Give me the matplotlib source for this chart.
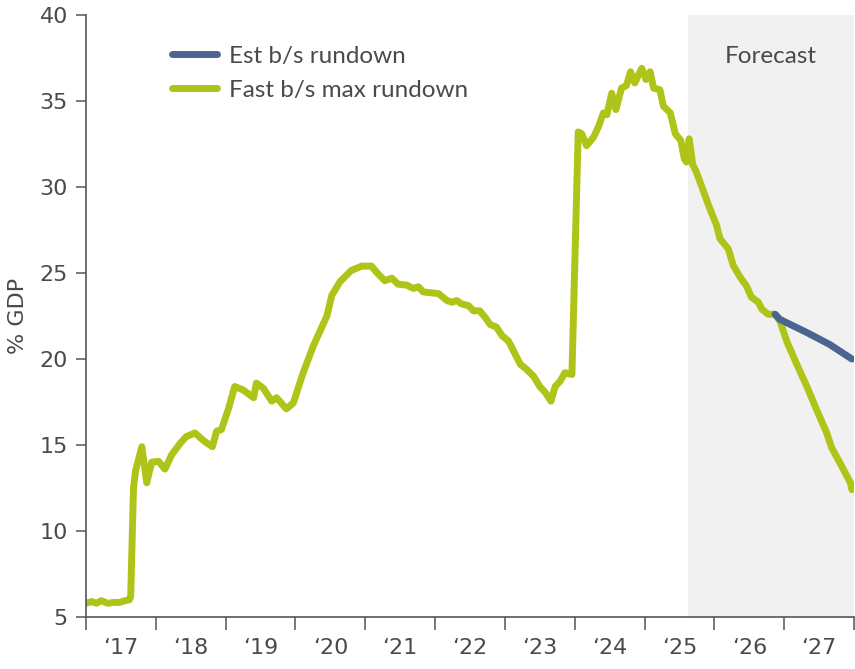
import numpy as np
import matplotlib.pyplot as plt

# balance sheet as % of GDP, decimal years
hist_x = [2017.00, 2017.08, 2017.15, 2017.22, 2017.31, 2017.40, 2017.48, 2017.56, 2017.62,
          2017.64, 2017.68, 2017.71, 2017.80, 2017.87, 2017.94, 2018.04, 2018.13, 2018.23,
          2018.35, 2018.44, 2018.56, 2018.70, 2018.81, 2018.87, 2018.94, 2019.04, 2019.13,
          2019.25, 2019.40, 2019.44, 2019.54, 2019.66, 2019.73, 2019.87, 2019.97, 2020.11,
          2020.26, 2020.45, 2020.52, 2020.64, 2020.80, 2020.95, 2021.09, 2021.16, 2021.28,
          2021.38, 2021.47, 2021.59, 2021.69, 2021.76, 2021.83, 2022.05, 2022.17, 2022.24,
          2022.31, 2022.38, 2022.48, 2022.55, 2022.64, 2022.72, 2022.79, 2022.88, 2022.96,
          2023.05, 2023.12, 2023.22, 2023.31, 2023.41, 2023.50, 2023.58, 2023.66, 2023.72,
          2023.79, 2023.86, 2023.96, 2024.05, 2024.10, 2024.17, 2024.27, 2024.34, 2024.41,
          2024.46, 2024.53, 2024.59, 2024.67, 2024.74, 2024.80, 2024.86, 2024.96, 2025.02,
          2025.08, 2025.13, 2025.22, 2025.27, 2025.37, 2025.44, 2025.52, 2025.57, 2025.60,
          2025.64, 2025.69, 2025.74, 2025.84, 2025.93, 2026.03, 2026.08, 2026.20, 2026.27,
          2026.37, 2026.46, 2026.53, 2026.63, 2026.68, 2026.77, 2026.87]
hist_y = [5.8, 5.9, 5.8, 5.95, 5.8, 5.85, 5.85, 5.95, 6.0,
          6.2, 12.5, 13.5, 14.9, 12.8, 14.0, 14.05, 13.6, 14.45,
          15.1, 15.5, 15.7, 15.2, 14.9, 15.8, 15.9, 17.1, 18.4,
          18.2, 17.75, 18.6, 18.3, 17.55, 17.75, 17.1, 17.45, 19.2,
          20.8, 22.5, 23.7, 24.5, 25.15, 25.4, 25.4, 25.05, 24.55,
          24.7, 24.35, 24.3, 24.1, 24.2, 23.9, 23.8, 23.4, 23.3,
          23.4, 23.2, 23.1, 22.8, 22.8, 22.4, 22.0, 21.85, 21.35,
          21.05, 20.5, 19.7, 19.4, 19.0, 18.4, 18.05, 17.55, 18.4,
          18.7, 19.2, 19.1, 33.2, 33.1, 32.4, 32.9, 33.5, 34.3,
          34.2, 35.45, 34.5, 35.75, 35.9, 36.7, 36.05, 36.9, 36.25,
          36.7, 35.75, 35.65, 34.7, 34.3, 33.1, 32.7, 31.65, 31.45,
          32.8, 31.3, 30.9, 29.8, 28.8, 27.8, 27.0, 26.4, 25.45,
          24.75, 24.25, 23.6, 23.3, 22.9, 22.6, 22.6]

fast_x = [2026.94, 2027.04, 2027.18, 2027.32, 2027.46, 2027.61, 2027.68, 2027.80, 2027.95, 2027.97]
fast_y = [22.2, 21.0, 19.7, 18.45, 17.1, 15.7, 14.85, 13.95, 12.8, 12.4]

est_x = [2026.87, 2026.94, 2027.32, 2027.65, 2027.97]
est_y = [22.6, 22.3, 21.55, 20.85, 20.0]

forecast_start = 2025.62
years = list(range(2017, 2029))
year_labels = ["\u2018%d" % (y % 100) for y in years[:-1]]

green = "#afc418"
blue = "#4b6491"
text_col = "#4a4a4a"
axis_col = "#555555"

fig = plt.figure(figsize=(8.55, 6.69), dpi=100)
ax = fig.add_axes([0.1006, 0.0777, 0.8982, 0.8999])

ax.axvspan(forecast_start, 2028, color="#f1f1f1", lw=0, zorder=0)

green_x = hist_x + fast_x
green_y = hist_y + fast_y
ax.plot(green_x, green_y, color=green, lw=5, solid_capstyle="round",
        solid_joinstyle="round", label="Fast b/s max rundown", zorder=2)
ax.plot(est_x, est_y, color=blue, lw=5, solid_capstyle="round",
        solid_joinstyle="round", label="Est b/s rundown", zorder=3)

ax.set_xlim(2017, 2028)
ax.set_ylim(5, 40)

ax.set_xticks(years)
ax.set_xticklabels([])
ax.set_xticks([y + 0.5 for y in years[:-1]], minor=True)
ax.set_xticklabels(year_labels, minor=True)
ax.tick_params(axis="x", which="major", direction="out", length=9, width=1.1, color=axis_col)
ax.tick_params(axis="x", which="minor", length=0, pad=15, labelsize=16, labelcolor=text_col)

ax.set_yticks(range(5, 41, 5))
ax.tick_params(axis="y", direction="out", length=7, width=1.1, color=axis_col,
               pad=6, labelsize=16, labelcolor=text_col)

for side in ["top", "right"]:
    ax.spines[side].set_visible(False)
for side in ["left", "bottom"]:
    ax.spines[side].set_color(axis_col)
    ax.spines[side].set_linewidth(1.2)

ax.set_ylabel("% GDP", fontsize=16, color=text_col, labelpad=8)

ax.text(2026.81, 37.6, "Forecast", fontsize=17.5, color=text_col, family="Lato",
        ha="center", va="center")

handles, labels = ax.get_legend_handles_labels()
leg = ax.legend(handles[::-1], labels[::-1], loc="upper left", bbox_to_anchor=(0.083, 0.985),
                frameon=False, handlelength=1.85, handletextpad=0.5, labelspacing=0.52,
                prop={"family": "Lato", "size": 17.5})
for t in leg.get_texts():
    t.set_color(text_col)

fig.savefig("out.png", dpi=100)
